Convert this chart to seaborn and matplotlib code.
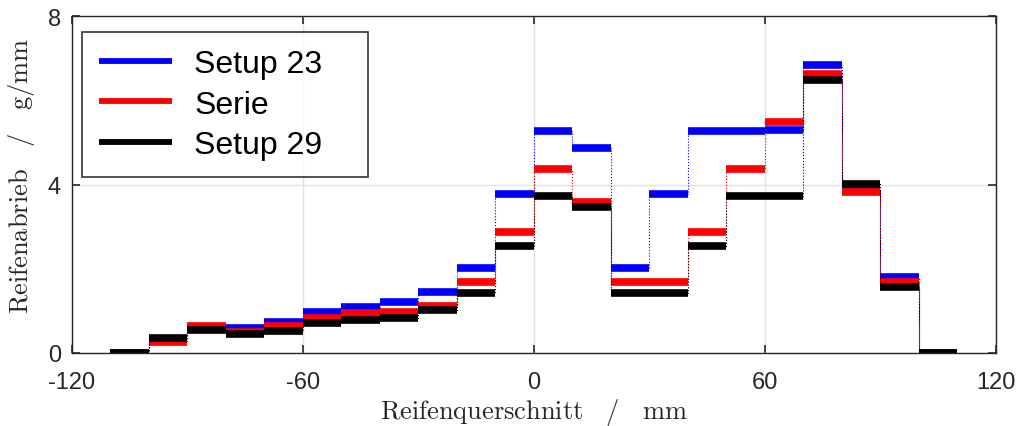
import numpy as np
import pandas as pd
import matplotlib
matplotlib.use("Agg")
import matplotlib.pyplot as plt
import seaborn as sns
from matplotlib.lines import Line2D

# Bin edges (mm) and wear values (g/mm)
edges = [-110, -100, -90, -80, -70, -60, -50, -40, -30, -20, -10, 0,
         10, 20, 30, 40, 50, 60, 70, 80, 90, 100, 110]
setup23 = [0.0, 0.30, 0.60, 0.59, 0.74, 0.97, 1.09, 1.21, 1.45, 2.02, 3.78,
           5.27, 4.87, 2.02, 3.78, 5.27, 5.27, 5.30, 6.84, 3.90, 1.80, 0.0]
serie = [0.0, 0.25, 0.64, 0.50, 0.64, 0.83, 0.95, 0.98, 1.12, 1.69, 2.87,
         4.37, 3.59, 1.69, 1.69, 2.87, 4.37, 5.48, 6.63, 3.83, 1.69, 0.0]
setup29 = [0.0, 0.35, 0.55, 0.45, 0.53, 0.71, 0.78, 0.83, 1.02, 1.43, 2.54,
           3.73, 3.47, 1.43, 1.43, 2.54, 3.73, 3.73, 6.48, 4.01, 1.56, 0.0]
series_names = ["Setup 23", "Serie", "Setup 29"]
colors = ["#0000ff", "#ff0000", "#000000"]
xticks = [-120, -60, 0, 60, 120]
yticks = [0, 4, 8]

sns.set_style("white")
plt.rcParams["font.family"] = ["Liberation Sans", "DejaVu Sans"]
plt.rcParams["axes.unicode_minus"] = False
plt.rcParams["mathtext.fontset"] = "cm"

fig = plt.figure(figsize=(10.21, 4.27), dpi=100)
ax = fig.add_axes([0.0705, 0.171, 0.905, 0.789])

for name, vals, col in zip(series_names, [setup23, serie, setup29], colors):
    # thin dotted step connectors
    step_df = pd.DataFrame({"x": edges, "y": list(vals) + [vals[-1]]})
    sns.lineplot(data=step_df, x="x", y="y", drawstyle="steps-post",
                 color=col, lw=0.8, linestyle=":", ax=ax, legend=False)
    # thick horizontal segments
    rows = []
    for i, v in enumerate(vals):
        rows.append({"x": edges[i], "y": v, "seg": i})
        rows.append({"x": edges[i + 1], "y": v, "seg": i})
    seg_df = pd.DataFrame(rows)
    sns.lineplot(data=seg_df, x="x", y="y", units="seg", estimator=None,
                 color=col, lw=5.5, solid_capstyle="butt", ax=ax, legend=False)

ax.set_xlim(-120, 120)
ax.set_ylim(0, 8)
ax.set_xticks(xticks)
ax.set_yticks(yticks)
ax.tick_params(direction="in", length=6, width=1.2, colors="#262626",
               labelsize=17, labelcolor="#262626", top=True, right=True,
               bottom=True, left=True)
ax.tick_params(axis="x", pad=13)
ax.tick_params(axis="y", pad=8)
ax.grid(True, color="#e3e3e3", lw=1)
ax.set_axisbelow(True)
for sp in ax.spines.values():
    sp.set_color("#262626")
    sp.set_linewidth(1)

ax.set_xlabel(r"$\mathrm{Reifenquerschnitt}\ \ \ /\ \ \ \mathrm{mm}$",
              fontsize=19, color="#262626")
ax.set_ylabel(r"$\mathrm{Reifenabrieb}\ \ \ /\ \ \ \mathrm{g/mm}$",
              fontsize=19, color="#262626")
ax.xaxis.set_label_coords(0.5, -0.128)
ax.yaxis.set_label_coords(-0.038, 0.528)

handles = [Line2D([0], [0], color=c, lw=4.2, solid_capstyle="butt") for c in colors]
leg = ax.legend(handles, series_names, loc="upper left",
                bbox_to_anchor=(0.0108, 0.9525 - 0.415, 0.3095, 0.415),
                mode="expand",
                fontsize=23, frameon=True, fancybox=False, handlelength=2.3,
                handletextpad=0.7, borderpad=0.52, labelspacing=0.34,
                borderaxespad=0)
leg.get_frame().set_edgecolor("black")
leg.get_frame().set_linewidth(1.2)
for t in leg.get_texts():
    t.set_color("black")

fig.savefig("out.png", dpi=100)
